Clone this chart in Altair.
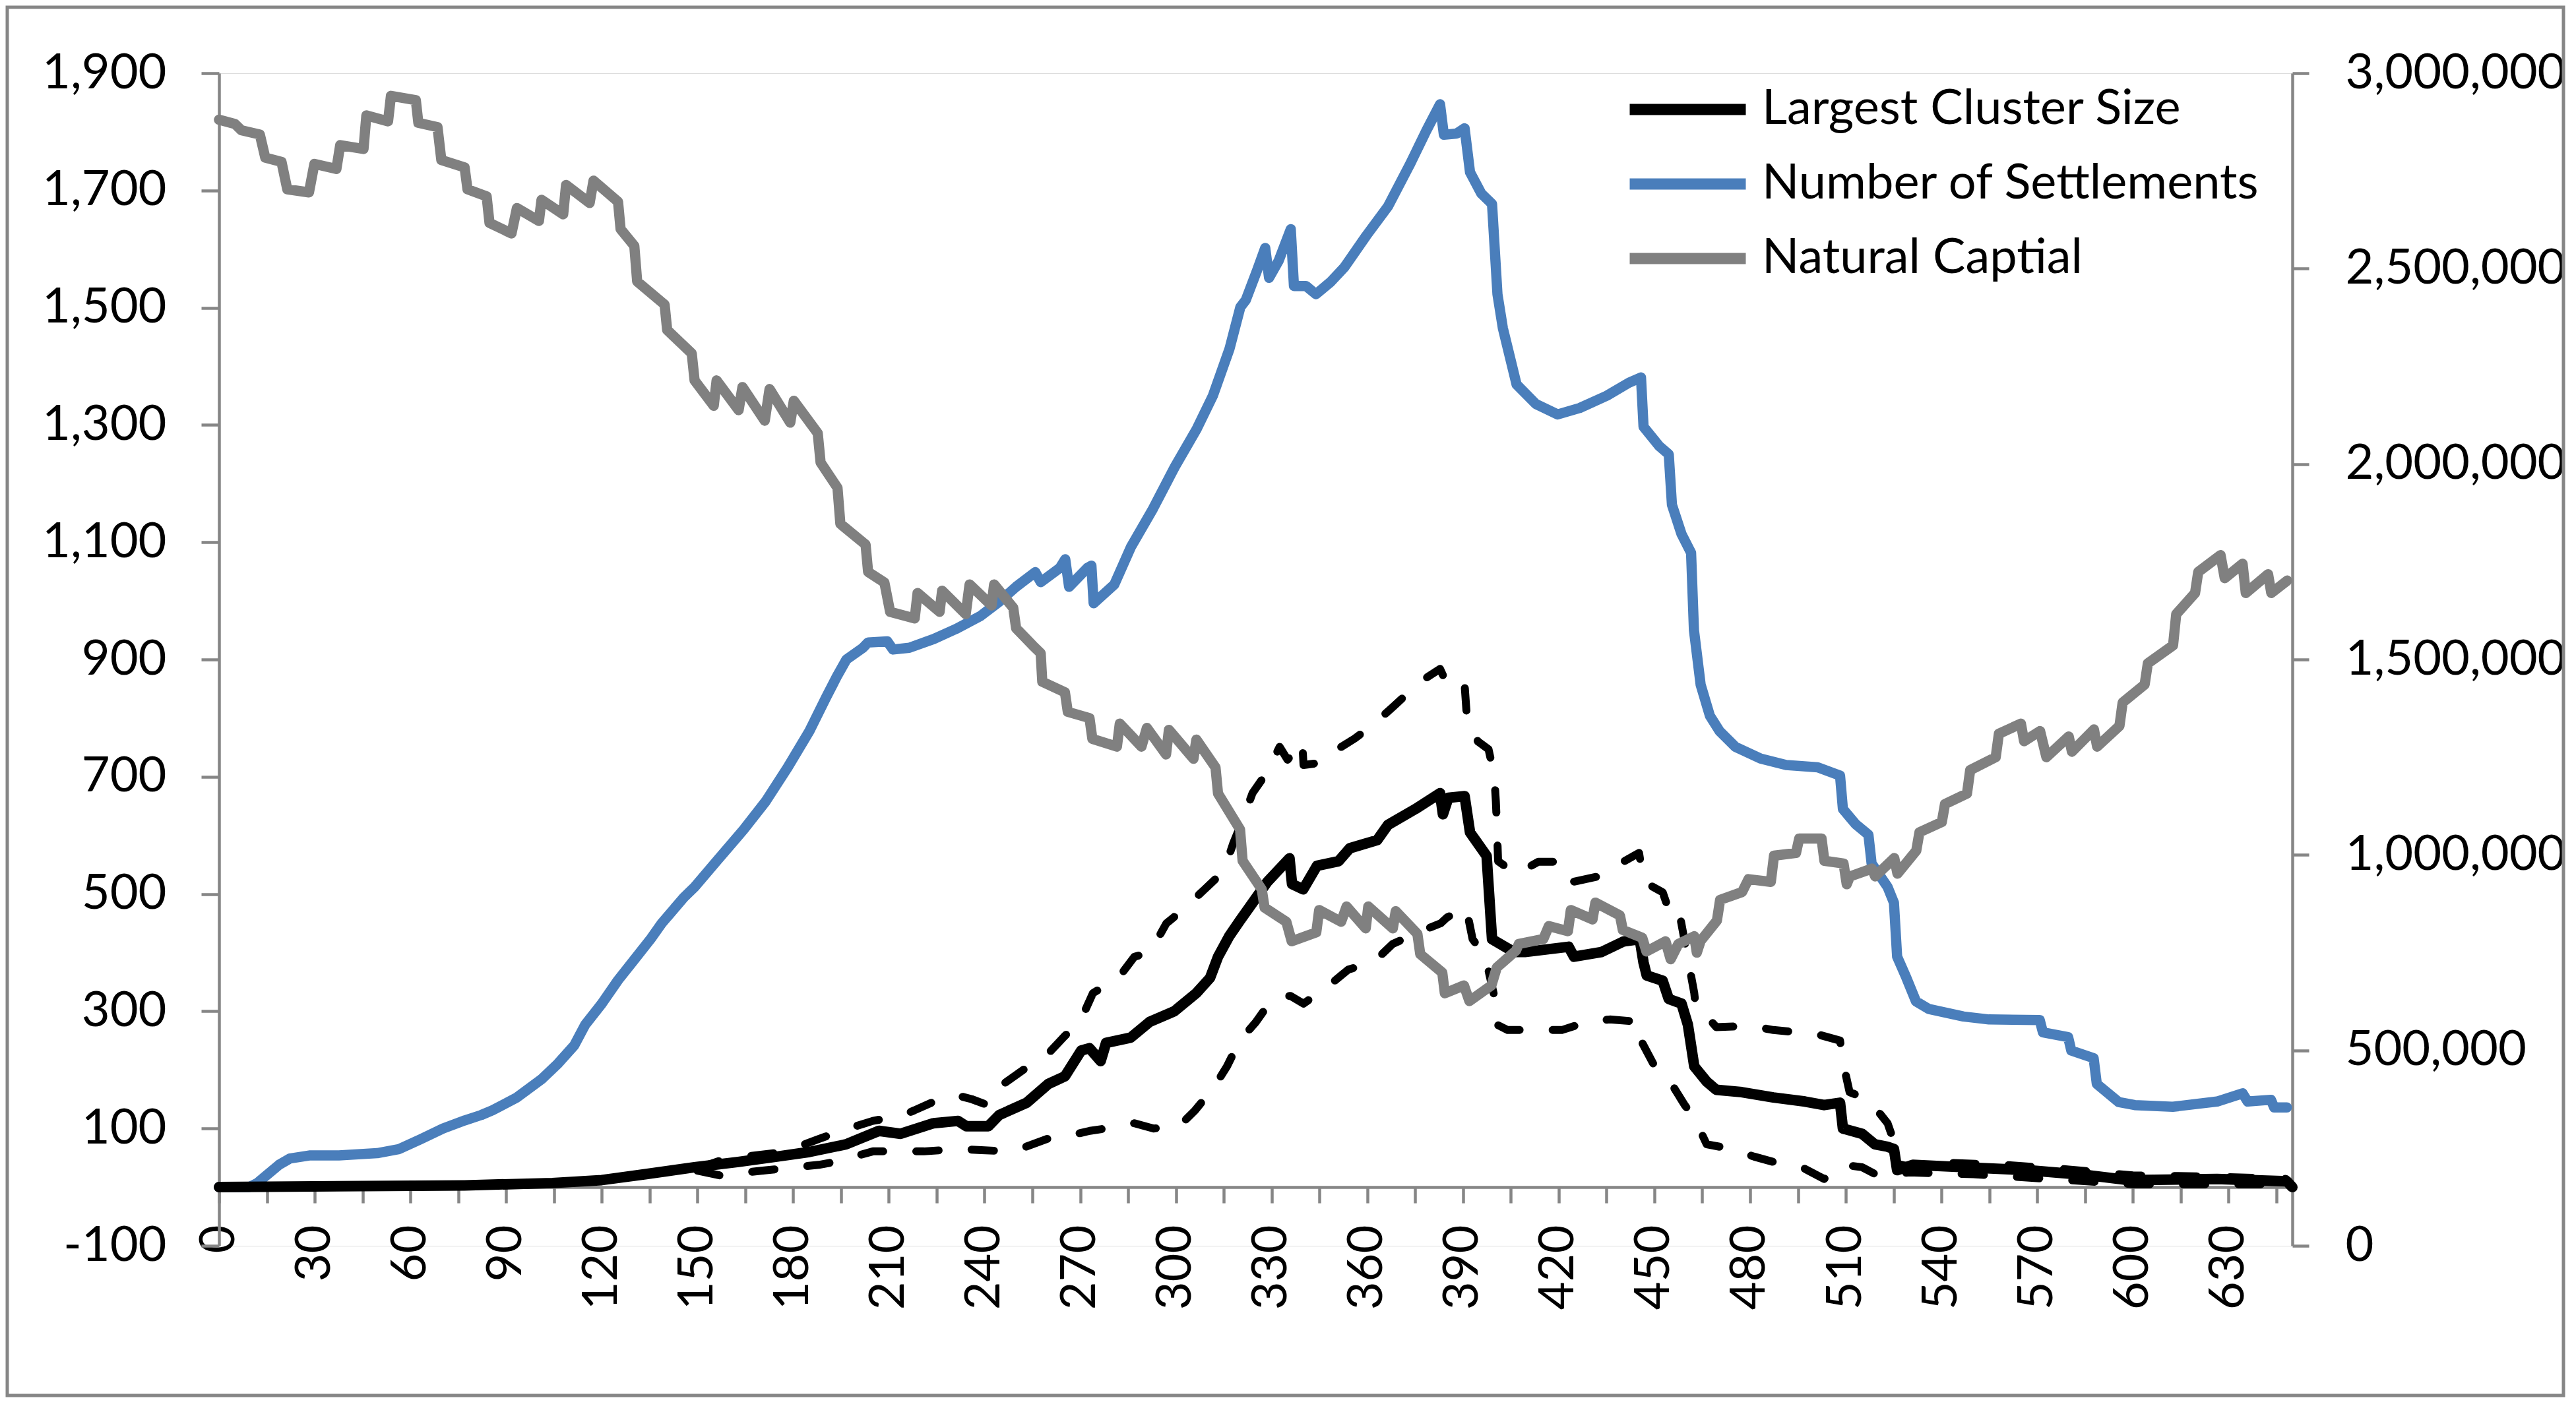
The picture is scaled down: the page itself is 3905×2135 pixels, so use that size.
import altair as alt
import pandas as pd

# ---------------- data ----------------
NAMES = ["Largest Cluster Size", "Number of Settlements", "Natural Captial"]

# Natural Captial (right axis)
nc_t = [0, 5, 7, 12.8, 14.5, 19.6, 21.4, 28.2, 29.9, 36.8, 38, 45.3, 46.2, 53, 53.9, 61.7, 62.5,
        68.5, 69.7, 77, 77.9, 83.9, 84.8, 91.7, 93.4, 100.3, 101.1, 107.9, 108.8, 116.2, 117.4,
        125.1, 125.9, 130.2, 131.1, 139.7, 140.5, 148.2, 149.1, 155.1, 156, 162.9, 164.1, 171.1,
        172.6, 179.1, 180.2, 187.7, 188.6, 193.9, 194.8, 202.7, 203.5, 208.6, 210.4, 218.1, 219,
        225.9, 226.7, 234.1, 235.3, 242.2, 243, 249, 249.9, 255.1, 257.6, 258.1, 265.2, 266.1,
        272.9, 273.8, 281.5, 282.4, 289.2, 290.9, 296.9, 297.8, 305.5, 306.4, 312.4, 313.2,
        320.1, 320.9, 326.9, 327.8, 334.6, 336.3, 344, 344.9, 351.8, 353.5, 359.5, 360.3, 368,
        368.9, 375.7, 376.6, 383.5, 384.3, 390.3, 392, 398.9, 400.6, 406.6, 407.5, 415.2, 416.9,
        422.9, 423.8, 430.6, 431.5, 439.2, 440.1, 446.2, 447.5, 453.5, 455.1, 457.5, 462.5,
        463.3, 464.5, 469.6, 470.6, 477.5, 479.5, 486.5, 487.5, 494.4, 495.4, 502.4, 503.3,
        509.3, 510.3, 511.3, 518.2, 519.2, 525.2, 526.2, 532.1, 533.1, 540.1, 541.1, 548, 549,
        557, 558, 564.9, 565.9, 570.9, 572.9, 579.9, 580.9, 587.8, 588.8, 595.8, 596.8, 603.7,
        604.7, 612.6, 613.6, 619.5, 620.5, 627.5, 628.8, 634.4, 635.4, 642.4, 643.4, 648.4]
nc_v = [2881000, 2870000, 2854000, 2843000, 2784000, 2773000, 2703000, 2695000, 2768000, 2755000,
        2816000, 2806000, 2892000, 2877000, 2942000, 2931000, 2873000, 2862000, 2778000, 2759000,
        2703000, 2685000, 2617000, 2590000, 2655000, 2622000, 2676000, 2639000, 2714000, 2668000,
        2725000, 2671000, 2601000, 2558000, 2467000, 2408000, 2343000, 2283000, 2214000, 2149000,
        2214000, 2138000, 2197000, 2111000, 2192000, 2106000, 2162000, 2079000, 2004000, 1939000,
        1847000, 1794000, 1724000, 1697000, 1622000, 1605000, 1670000, 1622000, 1676000, 1616000,
        1692000, 1638000, 1692000, 1632000, 1580000, 1536000, 1516000, 1443000, 1416000, 1366000,
        1350000, 1297000, 1277000, 1336000, 1277000, 1325000, 1257000, 1320000, 1246000, 1295000,
        1224000, 1157000, 1065000, 985000, 912000, 865000, 829000, 779000, 802000, 859000, 829000,
        868000, 812000, 868000, 812000, 856000, 798000, 746000, 699000, 646000, 666000, 626000,
        666000, 712000, 755000, 772000, 785000, 818000, 805000, 859000, 835000, 878000, 845000,
        808000, 788000, 753000, 779000, 733000, 772000, 792000, 750000, 780000, 832000, 885000,
        905000, 938000, 931000, 998000, 1005000, 1042000, 1042000, 985000, 978000, 925000, 945000,
        965000, 945000, 992000, 952000, 1011000, 1058000, 1084000, 1130000, 1157000, 1217000,
        1250000, 1310000, 1336000, 1291000, 1317000, 1250000, 1303000, 1264000, 1321000, 1277000,
        1330000, 1390000, 1436000, 1490000, 1536000, 1616000, 1670000, 1724000, 1767000, 1708000,
        1745000, 1670000, 1718000, 1670000, 1702000]

# Number of Settlements (left axis)
ns_t = [0, 9.4, 12, 18.8, 22.3, 28.3, 37.6, 49.6, 56.5, 63.3, 70.2, 77.1, 82.2, 85.7, 93.4, 101.1,
        106.3, 111.4, 114.8, 120, 125.1, 130.2, 135.4, 138.8, 145.7, 149.1, 156, 164.5, 171.4,
        178.3, 185.1, 190.3, 193.7, 196.7, 201.9, 203.5, 209.5, 211.3, 216.4, 224.1, 231, 238.7,
        244.7, 249.9, 255.9, 257.6, 263.6, 265.3, 266.5, 272.2, 273.5, 274.2, 280.7, 285.9, 292.8,
        299.6, 306.5, 311.6, 316.8, 320.2, 321.9, 325.4, 328, 329.2, 332.2, 336, 337, 340.8, 343.9,
        348.5, 352.8, 359.7, 366.5, 373.4, 378.5, 382.8, 384, 388, 390.5, 392.2, 395.7, 399.1,
        400.8, 402.5, 406.8, 412.8, 419.7, 426.6, 435.1, 442, 445.8, 446.6, 451.5, 454.5, 455.5,
        458.5, 461.5, 462.4, 464.5, 467.4, 470.4, 475.4, 483.3, 491.3, 501.2, 507.2, 508.2, 509.1,
        513.1, 517.1, 518.1, 523.1, 525.1, 526.1, 529, 532, 536, 546.9, 554.9, 570.8, 571.8,
        579.7, 580.7, 587.7, 588.7, 595.6, 600.6, 612.5, 626.4, 634.4, 636, 643.3, 644.3, 648.3]
ns_v = [0, 0, 7, 38, 49, 54, 54, 58, 65, 82, 100, 114, 123, 131, 153, 184, 211, 242, 277, 313, 353,
        388, 424, 450, 494, 512, 556, 610, 658, 716, 778, 835, 871, 900, 920, 929, 931, 917, 920,
        935, 952, 974, 999, 1024, 1049, 1032, 1056, 1071, 1024, 1056, 1060, 996, 1028, 1092, 1157,
        1228, 1293, 1350, 1430, 1501, 1513, 1563, 1602, 1551, 1580, 1634, 1537, 1537, 1523, 1544,
        1569, 1623, 1673, 1745, 1802, 1847, 1795, 1797, 1806, 1731, 1695, 1677, 1523, 1465, 1369,
        1336, 1318, 1329, 1350, 1372, 1381, 1297, 1264, 1250, 1164, 1114, 1082, 950, 857, 804, 778,
        751, 731, 720, 716, 704, 702, 645, 619, 601, 552, 512, 485, 393, 357, 317, 304, 291, 286,
        285, 264, 256, 233, 220, 176, 145, 140, 137, 146, 160, 146, 149, 136, 136]

# Largest Cluster Size (left axis)
lc_t = [0, 77, 104.5, 120, 133.6, 149.1, 162.8, 174.8, 185.1, 196.6, 206.9, 213.7, 224, 231.7,
        234.3, 241.2, 244.6, 253.2, 260, 265.2, 270.3, 272.9, 276.4, 278.1, 285.8, 291.8, 299.5,
        306.4, 310.7, 313.2, 316.7, 320.1, 323.5, 328.7, 335.6, 336.4, 339.9, 344.2, 351, 354.5,
        363.1, 366.5, 375.1, 382.8, 383.7, 385.4, 390.5, 392.2, 397.4, 399.1, 406, 409.4, 423.1,
        424.8, 433.4, 440.3, 445.4, 446.6, 447.6, 452.6, 454.5, 458.5, 460.5, 462.5, 466.4, 469.4,
        477.4, 487.3, 497.2, 503.2, 508.2, 509.1, 515.1, 519.1, 523, 525.1, 526.1, 531, 546.9,
        566.7, 586.6, 598.5, 626.4, 648.3, 650]
lc_v = [0, 3, 7, 12, 22, 34, 43, 52, 60, 73, 96, 91, 109, 113, 104, 104, 123, 144, 176, 189, 233,
        237, 215, 246, 255, 282, 300, 331, 357, 393, 428, 455, 481, 521, 561, 517, 508, 548, 556,
        578, 592, 618, 645, 672, 636, 664, 667, 605, 565, 423, 401, 401, 410, 393, 401, 419, 423,
        383, 361, 352, 321, 313, 277, 206, 180, 166, 162, 153, 146, 140, 144, 100, 91, 73, 69, 65,
        29, 38, 34, 29, 20, 12, 14, 10, 0]

# dashed bounds around Largest Cluster Size (left axis, not in the legend)
up_t = [150, 157, 165, 177, 188, 195, 205, 214, 218, 227, 231, 236, 241, 244.6, 255, 260, 265, 270,
        274, 282, 287, 292, 297, 302, 309, 315, 318, 321, 324, 329, 332.5, 335, 339.6, 340, 345.6,
        348, 356, 361.4, 367.8, 373, 376.6, 382.8, 385.4, 390.5, 391.3, 394.7, 398, 399.8, 400.3,
        400.7, 401, 406.7, 413.6, 421.3, 424.7, 432.4, 439.2, 445.2, 446.6, 452.6, 454.5, 457.5,
        462.5, 463, 466.4, 469.4, 480.3, 487.3, 495.3, 502.2, 508.2, 509.2, 511.2, 517.2, 523.1,
        525.1, 526, 530, 540, 560, 580, 600, 625, 648]
up_v = [32, 45, 52, 60, 82, 96, 113, 122, 131, 153, 157, 150, 140, 171, 211, 228, 257, 283, 331,
        357, 393, 401, 450, 472, 508, 539, 587, 627, 672, 711, 751, 729, 760, 720, 724, 738, 765,
        787, 818, 844, 862, 884, 853, 857, 795, 760, 747, 702, 658, 605, 556, 534, 555, 555, 521,
        530, 552, 570, 521, 503, 473, 478, 331, 304, 291, 273, 275, 268, 264, 259, 250, 211, 162,
        149, 109, 78, 40, 35, 42, 38, 30, 20, 18, 14]
lo_t = [150, 157, 170, 188, 197, 199, 205, 214, 221, 232, 239, 248, 253, 262, 269, 273, 278, 287,
        293, 301, 306, 312, 316, 320, 325, 328, 332, 336, 340, 348, 354, 362, 368, 377, 383, 385,
        391, 393, 397, 400, 400.7, 404, 413, 421, 429, 436, 445.4, 445.8, 449.6, 454.5, 459.5,
        462.5, 466.4, 473.4, 481.3, 487.3, 496.2, 503.2, 509.2, 515.1, 520, 530, 550, 580, 600, 648]
lo_v = [28, 20, 28, 38, 47, 52, 61, 61, 61, 65, 63, 61, 69, 87, 91, 96, 100, 109, 100, 104, 131,
        171, 206, 250, 281, 304, 326, 326, 313, 344, 371, 384, 415, 437, 450, 460, 477, 423, 393,
        321, 277, 268, 268, 268, 282, 286, 282, 250, 211, 184, 140, 118, 73, 66, 52, 43, 34, 14,
        38, 34, 20, 25, 22, 12, 5, 5]

# ---------------- layout / style ----------------
W, H = 3143, 1778
FONT = "Lato"
FS = 74
AX = "#868686"

df_lc = pd.DataFrame({"t": lc_t, "v": lc_v, "series": NAMES[0]})
df_ns = pd.DataFrame({"t": ns_t, "v": ns_v, "series": NAMES[1]})
df_nc = pd.DataFrame({"t": nc_t, "v": nc_v, "series": NAMES[2]})
df_b = pd.concat([pd.DataFrame({"t": up_t, "v": up_v, "bound": "upper"}),
                  pd.DataFrame({"t": lo_t, "v": lo_v, "bound": "lower"})], ignore_index=True)

common_axis = dict(tickColor=AX, tickWidth=4.5, domainColor=AX, domainWidth=4.5,
                   labelFont=FONT, labelFontSize=FS, labelColor="black", grid=False,
                   title=None, labelLimit=1000)

x_enc = alt.X("t:Q", scale=alt.Scale(domain=[0, 650], nice=False, zero=False),
              axis=alt.Axis(values=list(range(0, 646, 15)), format="d",
                            labelExpr="datum.value % 30 == 0 ? datum.label : ''",
                            labelAngle=-90, offset=-H * 100 / 2000, tickSize=24, labelPadding=33,
                            labelOverlap=False, labelFlush=False, **common_axis))

yl_enc = alt.Y("v:Q", scale=alt.Scale(domain=[-100, 1900], nice=False, zero=False),
               axis=alt.Axis(values=list(range(-100, 1901, 200)), format=",.0f", orient="left",
                             labelExpr="replace(datum.label, '\u2212', '-')",
                             tickSize=27, labelPadding=53, labelOverlap=False, **common_axis))

yr_enc = alt.Y("v:Q", scale=alt.Scale(domain=[0, 3000000], nice=False, zero=False),
               axis=alt.Axis(values=list(range(0, 3000001, 500000)), format=",.0f", orient="right",
                             tickSize=25, labelPadding=55, labelOverlap=False, **common_axis))

color_enc = alt.Color("series:N",
                      scale=alt.Scale(domain=NAMES, range=["#000000", "#4A7EBB", "#808080"]),
                      legend=alt.Legend(title=None, orient="none", legendX=2130, legendY=15,
                                        direction="vertical", symbolType="stroke",
                                        symbolSize=176 * 176, symbolStrokeWidth=17,
                                        labelFont=FONT, labelFontSize=FS, labelColor="black",
                                        labelOffset=16, labelLimit=0, clipHeight=80,
                                        rowPadding=33, padding=0))

line_kw = dict(strokeCap="round", strokeJoin="round")

blue = alt.Chart(df_ns).mark_line(strokeWidth=15.5, **line_kw).encode(
    x=x_enc, y=yl_enc, color=color_enc)
dashed = alt.Chart(df_b).mark_line(strokeWidth=12, strokeDash=[34, 50], color="black",
                                   **line_kw).encode(
    x=x_enc, y=yl_enc, detail="bound:N")
black = alt.Chart(df_lc).mark_line(strokeWidth=16, **line_kw).encode(
    x=x_enc, y=yl_enc, color=color_enc)
left = alt.layer(blue, dashed, black)

gray = alt.Chart(df_nc).mark_line(strokeWidth=15.5, **line_kw).encode(
    x=x_enc, y=yr_enc, color=color_enc)

frame = alt.Chart(pd.DataFrame({"k": [0]})).mark_rect(
    filled=False, stroke=AX, strokeWidth=5).encode(
    x=alt.value(-321), x2=alt.value(3554), y=alt.value(-100), y2=alt.value(2005))

chart = alt.layer(left, gray, frame).resolve_scale(y="independent").properties(
    width=W, height=H,
    autosize=alt.AutoSizeParams(type="none"),
    padding={"left": 324, "top": 103, "right": 414, "bottom": 230},
).configure_view(strokeWidth=0).configure(background="white")

chart.save("out.html", embed_options={"renderer": "svg", "actions": False})
